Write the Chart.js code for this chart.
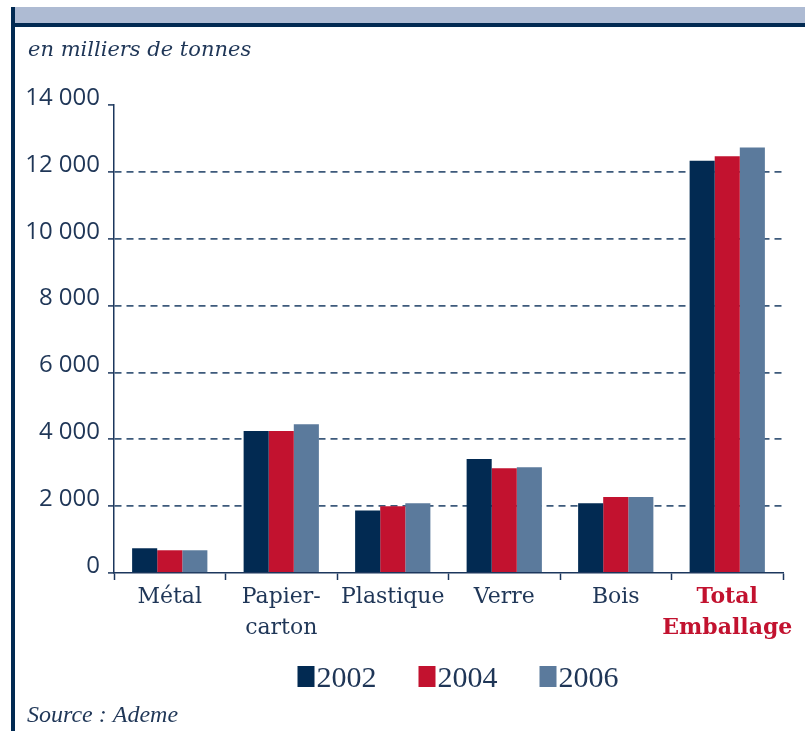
<!DOCTYPE html>
<html>
<head>
<meta charset="utf-8">
<script src="https://cdn.jsdelivr.net/npm/chart.js@4/dist/chart.umd.min.js"></script>
<style>
  html, body { margin: 0; padding: 0; background: #ffffff; }
  canvas { display: block; }
</style>
</head>
<body>
<canvas id="chart" width="805" height="731"></canvas>
<script>
// data (thousands of tonnes)
const categories = [["Métal"], ["Papier-", "carton"], ["Plastique"], ["Verre"], ["Bois"], ["Total", "Emballage"]];
const years = ["2002", "2004", "2006"];
const values2002 = [740, 4250, 1870, 3410, 2090, 12330];
const values2004 = [680, 4250, 2000, 3130, 2270, 12470];
const values2006 = [680, 4450, 2090, 3160, 2270, 12730];
const yTickValues = [0, 2000, 4000, 6000, 8000, 10000, 12000, 14000];
const yTickLabels = ["0", "2 000", "4 000", "6 000", "8 000", "10 000", "12 000", "14 000"];

const chartColors = {
  navy: "#022a52",
  red: "#c2122f",
  steel: "#5b7a9c",
  axis: "#1c375d",
  grid: "#3d5a7b",
  text: "#1f3657",
  band: "#aebbd3",
};

const decorPlugin = {
  id: "decor",
  beforeDraw(chart) {
    const ctx = chart.ctx;
    ctx.save();
    // top band and left rule
    ctx.fillStyle = chartColors.band;
    ctx.fillRect(11, 7, chart.width - 11, 16);
    ctx.fillStyle = chartColors.navy;
    ctx.fillRect(11, 23, chart.width - 11, 4);
    ctx.fillRect(11, 7, 4, chart.height - 7);
    // captions
    ctx.fillStyle = chartColors.text;
    ctx.textBaseline = "alphabetic";
    ctx.font = "italic 21px 'DejaVu Serif'";
    ctx.fillText("en milliers de tonnes", 28, 56);
    ctx.font = "italic 24px 'Liberation Serif'";
    ctx.fillText("Source : Ademe", 27, 722);
    ctx.restore();
  },
  afterDraw(chart) {
    // legend: square box stuck to the year label
    const ctx = chart.ctx;
    ctx.save();
    ctx.font = "30px 'Liberation Serif'";
    ctx.textBaseline = "alphabetic";
    const boxW = 17, boxH = 21, gap = 2, spacing = 42;
    const items = chart.data.datasets.map((ds) => ({
      text: ds.label,
      color: ds.backgroundColor,
      w: boxW + gap + ctx.measureText(ds.label).width,
    }));
    const total = items.reduce((s, it) => s + it.w, 0) + spacing * (items.length - 1);
    let x = 458 - total / 2;
    items.forEach((it) => {
      ctx.fillStyle = it.color;
      ctx.fillRect(x, 666, boxW, boxH);
      ctx.fillStyle = chartColors.text;
      ctx.fillText(it.text, x + boxW + gap, 687);
      x += it.w + spacing;
    });
    ctx.restore();
  },
};

const barChart = new Chart(document.getElementById("chart"), {
  type: "bar",
  data: {
    labels: categories,
    datasets: [
      { label: years[0], data: values2002, backgroundColor: chartColors.navy },
      { label: years[1], data: values2004, backgroundColor: chartColors.red },
      { label: years[2], data: values2006, backgroundColor: chartColors.steel },
    ],
  },
  options: {
    responsive: false,
    animation: false,
    datasets: {
      bar: {
        categoryPercentage: 0.675,
        barPercentage: 1,
        borderWidth: 0,
      },
    },
    layout: {
      padding: { left: 0, top: 105, right: 22, bottom: 58 },
    },
    plugins: {
      legend: { display: false },
      tooltip: { enabled: false },
    },
    scales: {
      x: {
        afterFit: (scale) => {
          scale.height = 100;
        },
        border: { color: chartColors.axis, width: 1.5 },
        grid: {
          offset: true,
          drawOnChartArea: false,
          drawTicks: true,
          tickLength: 7,
          tickColor: chartColors.axis,
          tickWidth: 1.5,
        },
        ticks: {
          padding: 2,
          maxRotation: 0,
          autoSkip: false,
          color: (c) => (c.index === 5 ? chartColors.red : chartColors.text),
          font: (c) => ({
            family: "'DejaVu Serif'",
            size: 22,
            weight: c.index === 5 ? "bold" : "normal",
            lineHeight: 1.4,
          }),
        },
      },
      y: {
        min: 0,
        max: 14000,
        afterFit: (scale) => {
          scale.width = 114;
        },
        afterBuildTicks: (scale) => {
          scale.ticks = yTickValues.map((v) => ({ value: v }));
        },
        border: {
          color: chartColors.axis,
          width: 1.5,
          dash: [7, 5],
        },
        grid: {
          color: (c) =>
            c.tick && (c.tick.value === 0 || c.tick.value === 14000)
              ? "rgba(0,0,0,0)"
              : chartColors.grid,
          lineWidth: 1.8,
          tickLength: 6,
          tickColor: chartColors.axis,
          tickWidth: 1.5,
          tickBorderDash: [],
        },
        ticks: {
          padding: 8,
          labelOffset: -7,
          color: chartColors.text,
          font: { family: "'Open Sans'", size: 24 },
          callback: (value) => {
            const i = yTickValues.indexOf(value);
            return i >= 0 ? yTickLabels[i] : "";
          },
        },
      },
    },
  },
  plugins: [decorPlugin],
});
</script>
</body>
</html>
